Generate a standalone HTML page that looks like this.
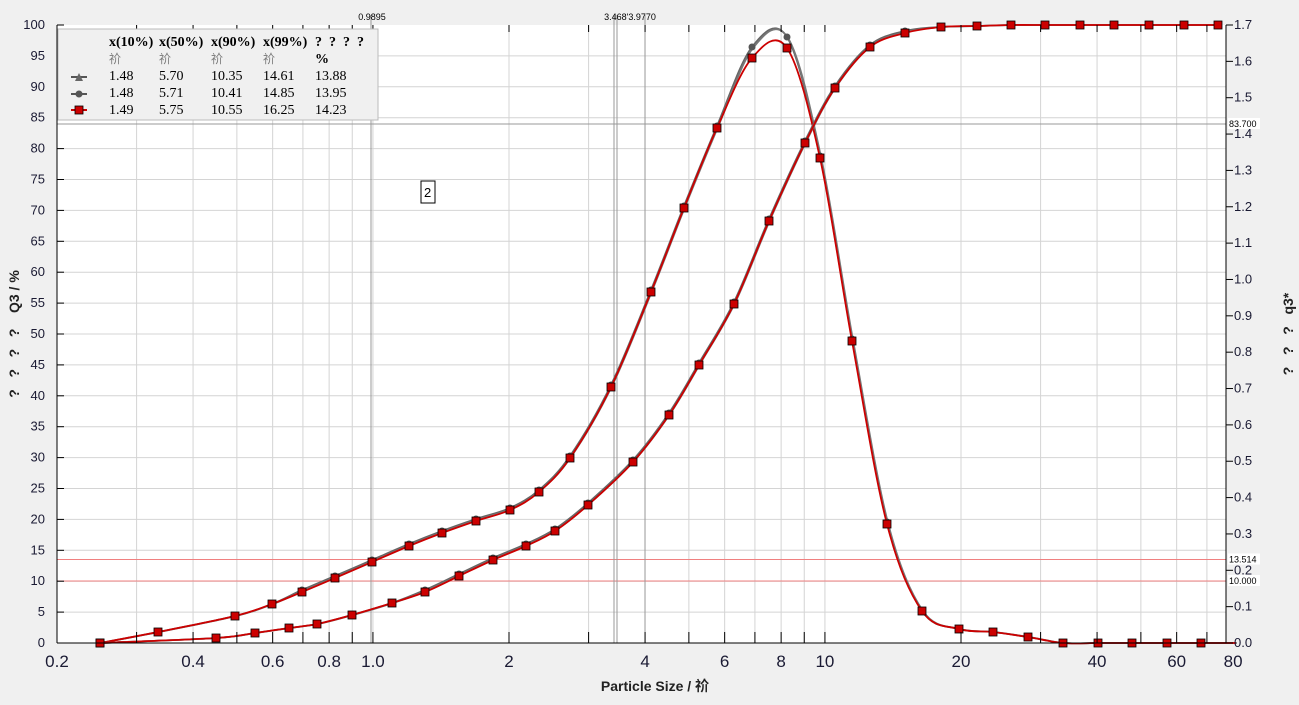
<!DOCTYPE html>
<html><head><meta charset="utf-8"><style>
html,body{margin:0;padding:0;background:#f0f0f0;width:1299px;height:705px;overflow:hidden;font-family:"Liberation Sans","Noto Sans CJK SC",sans-serif}
</style></head><body>
<svg id="s" width="1299" height="705" xmlns="http://www.w3.org/2000/svg" font-family="Liberation Sans, Noto Sans CJK SC, sans-serif">
<rect x="0" y="0" width="1299" height="705" fill="#f0f0f0"/>
<rect x="57" y="25" width="1169" height="618" fill="#fff"/>
<g id="grid"></g>
<g id="ref"></g>
<g id="curves"></g>
<line x1="57" y1="25" x2="57" y2="643" stroke="#000"/>
<line x1="1226" y1="25" x2="1226" y2="643" stroke="#000"/>
<line x1="57" y1="643" x2="1226" y2="643" stroke="#000"/>
<g id="ticks" font-size="13" fill="#1a1a33"></g>
<rect x="58" y="29" width="320" height="91" fill="#f0f0f0" stroke="#bbb"/>
<g font-family="Liberation Serif, Noto Serif CJK SC, serif" font-size="14" fill="#000">
<g font-weight="bold"><text x="109" y="46">x(10%)</text><text x="159" y="46">x(50%)</text><text x="211" y="46">x(90%)</text><text x="263" y="46">x(99%)</text><text x="315" y="46" xml:space="preserve">?  ?  ?  ?</text></g>
<g fill="#777" font-family="Noto Sans CJK SC, sans-serif" font-size="12"><text x="109" y="63">祄</text><text x="159" y="63">祄</text><text x="211" y="63">祄</text><text x="263" y="63">祄</text></g>
<text x="315" y="63" font-weight="bold">%</text>
<text x="109" y="80">1.48</text><text x="159" y="80">5.70</text><text x="211" y="80">10.35</text><text x="263" y="80">14.61</text><text x="315" y="80">13.88</text>
<text x="109" y="97">1.48</text><text x="159" y="97">5.71</text><text x="211" y="97">10.41</text><text x="263" y="97">14.85</text><text x="315" y="97">13.95</text>
<text x="109" y="114">1.49</text><text x="159" y="114">5.75</text><text x="211" y="114">10.55</text><text x="263" y="114">16.25</text><text x="315" y="114">14.23</text>
</g>
<line x1="71" y1="77" x2="87" y2="77" stroke="#555" stroke-width="2"/><path d="M75,81 L79,73 L83,81Z" fill="#666"/>
<line x1="71" y1="94" x2="87" y2="94" stroke="#555" stroke-width="2"/><circle cx="79" cy="94" r="3.5" fill="#555"/>
<line x1="71" y1="110" x2="87" y2="110" stroke="#c00" stroke-width="2"/><rect x="75" y="106" width="8" height="8" fill="#c00" stroke="#000" stroke-width="0.8"/>
<rect x="421" y="181" width="14" height="22" fill="#fff" stroke="#000"/><text x="424" y="197" font-size="13">2</text>
<text x="655" y="691" font-size="14" font-weight="bold" text-anchor="middle" fill="#222">Particle Size / 祄</text>
<text transform="translate(19,334) rotate(-90)" font-size="14" font-weight="bold" text-anchor="middle" fill="#222" xml:space="preserve">?   ?   ?   ?    Q3 / %</text>
<text transform="translate(1293,334) rotate(-90)" font-size="14" font-weight="bold" text-anchor="middle" fill="#222" xml:space="preserve">?   ?   ?   q3*</text>
</svg>
<script>
const NS="http://www.w3.org/2000/svg";
function el(p,t,a,txt){const e=document.createElementNS(NS,t);for(const k in a)e.setAttribute(k,a[k]);if(txt!=null)e.textContent=txt;document.getElementById(p).appendChild(e);return e;}
const X=v=>57+452*Math.log10(v/0.2);
const Y=v=>643-6.18*v;
const vt=[0.3,0.4,0.5,0.6,0.7,0.8,0.9,1,2,3,4,5,6,7,8,9,10,20,30,40,50,60,70];
vt.forEach(v=>{el("grid","line",{x1:X(v),x2:X(v),y1:25,y2:643,stroke:"#d4d4d4"});el("ticks","line",{x1:X(v),x2:X(v),y1:632,y2:643,stroke:"#000"});el("ticks","line",{x1:X(v),x2:X(v),y1:25,y2:32,stroke:"#000"});});
for(let i=5;i<100;i+=5)el("grid","line",{x1:57,x2:1226,y1:Y(i),y2:Y(i),stroke:"#d4d4d4"});
for(let i=0;i<=100;i+=5){el("ticks","line",{x1:57,x2:64,y1:Y(i),y2:Y(i),stroke:"#000"});el("ticks","text",{x:45,y:Y(i)+4,"text-anchor":"end"},i);}
for(let i=0;i<=17;i++){const y=643-i*618/17;el("ticks","line",{x1:1226,x2:1233,y1:y,y2:y,stroke:"#000"});el("ticks","text",{x:1234,y:y+4},(i/10).toFixed(1));}
[[0.2,"0.2"],[0.4,"0.4"],[0.6,"0.6"],[0.8,"0.8"],[1,"1.0"],[2,"2"],[4,"4"],[6,"6"],[8,"8"],[10,"10"],[20,"20"],[40,"40"],[60,"60"],[80,"80"]].forEach(([v,t])=>el("ticks","text",{x:X(v),y:667,"text-anchor":"middle","font-size":"17"},t));
el("ref","line",{x1:57,x2:1226,y1:581,y2:581,stroke:"#f08080"});
el("ref","line",{x1:57,x2:1226,y1:559.5,y2:559.5,stroke:"#f08080"});
el("ref","line",{x1:57,x2:1226,y1:124,y2:124,stroke:"#999"});
el("ref","line",{x1:371,x2:371,y1:15,y2:643,stroke:"#999"});
el("ref","line",{x1:614,x2:614,y1:15,y2:643,stroke:"#999"});
el("ref","line",{x1:617,x2:617,y1:15,y2:643,stroke:"#999"});
el("ref","line",{x1:645,x2:645,y1:15,y2:643,stroke:"#999"});
el("ref","text",{x:372,y:20,"font-size":"9","text-anchor":"middle"},"0.9895");
el("ref","text",{x:630,y:20,"font-size":"9","text-anchor":"middle"},"3.468'3.9770");
[[124,"83.700"],[559.5,"13.514"],[581,"10.000"]].forEach(([y,t])=>{el("ref","rect",{x:1228,y:y-6,width:32,height:11,fill:"#fff"});el("ref","text",{x:1229,y:y+3,"font-size":"9"},t);});
const dens=[[100,643],[158,632],[235,616],[272,604],[302,592],[335,578],[372,562],[409,546],[442,533],[476,521],[510,510],[539,492],[570,458],[611,387],[651,292],[684,208],[717,128],[752,58],[787,48],[820,158],[852,341],[887,524],[922,611],[959,629],[993,632],[1028,637],[1063,643],[1098,643],[1132,643],[1167,643],[1201,643],[1236,643]];
const cum=[[100,643],[216,638],[255,633],[289,628],[317,624],[352,615],[392,603],[425,592],[459,576],[493,560],[526,546],[555,531],[588,505],[633,462],[669,415],[699,365],[734,304],[769,221],[805,143],[835,88],[870,47],[905,33],[941,27],[977,26],[1011,25],[1045,25],[1080,25],[1114,25],[1149,25],[1184,25],[1218,25]];
function path(p){let d="M"+p[0][0]+","+p[0][1];for(let i=0;i<p.length-1;i++){const p0=p[i-1]||p[i],p1=p[i],p2=p[i+1],p3=p[i+2]||p2;d+=` C${p1[0]+(p2[0]-p0[0])/6},${p1[1]+(p2[1]-p0[1])/6} ${p2[0]-(p3[0]-p1[0])/6},${p2[1]-(p3[1]-p1[1])/6} ${p2[0]},${p2[1]}`;}return d;}
function draw(pts,col,dy,dx){const q=pts.map(([x,y])=>[x+dx,y+(y>600||y<30?0:dy)]);el("curves","path",{d:path(q),fill:"none",stroke:col,"stroke-width":"1.8"});return q;}
[[dens,true],[cum,false]].forEach(([p,isD])=>{
 const g1=p.map(([x,y])=>[x,(isD&&y<70)?y-9:y]);
 draw(g1,"#666",-2,0);draw(g1,"#777",-1,1);
 g1.forEach(([x,y])=>{if(x<1226)el("curves","circle",{cx:x,cy:y>=600||y<=30?y:y-2,r:3.5,fill:"#555"});});
 draw(p,"#c00",0,0);
 p.filter(([x])=>x<1226).forEach(([x,y])=>el("curves","rect",{x:x-4,y:y-4,width:8,height:8,fill:"#c00",stroke:"#000","stroke-width":"0.8"}));
});
</script>
</body></html>
